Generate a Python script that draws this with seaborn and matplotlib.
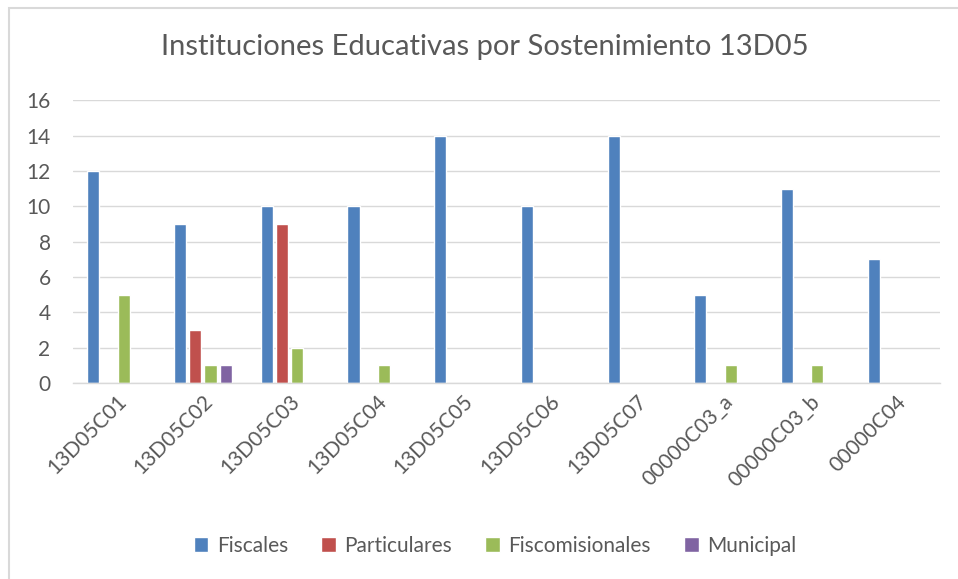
import pandas as pd
import matplotlib.pyplot as plt
from matplotlib.patches import Rectangle
import seaborn as sns

# data
circuitos = ['13D05C01', '13D05C02', '13D05C03', '13D05C04', '13D05C05',
             '13D05C06', '13D05C07', '00000C03_a', '00000C03_b', '00000C04']
fiscales = [12, 9, 10, 10, 14, 10, 14, 5, 11, 7]
particulares = [0, 3, 9, 0, 0, 0, 0, 0, 0, 0]
fiscomisionales = [5, 1, 2, 1, 0, 0, 0, 1, 1, 0]
municipal = [0, 1, 0, 0, 0, 0, 0, 0, 0, 0]
series = ['Fiscales', 'Particulares', 'Fiscomisionales', 'Municipal']
colores = ['#4F81BD', '#C0504D', '#9BBB59', '#8064A2']

df = pd.DataFrame({'Circuito': circuitos, 'Fiscales': fiscales,
                   'Particulares': particulares,
                   'Fiscomisionales': fiscomisionales,
                   'Municipal': municipal})
df = df.melt(id_vars='Circuito', var_name='Sostenimiento', value_name='n')

sns.set_style('white')
plt.rcParams['font.family'] = ['Lato', 'DejaVu Sans']
gris = '#595959'

fig = plt.figure(figsize=(9.58, 5.79), dpi=100)
ax = fig.add_axes([0.076, 0.3385, 0.905, 0.4885])

sns.barplot(data=df, x='Circuito', y='n', hue='Sostenimiento',
            hue_order=series, palette=colores, width=0.7, gap=0.2,
            saturation=1, ax=ax, legend=True)

ax.set_ylim(0, 16)
ax.set_yticks(range(0, 17, 2))
ax.yaxis.grid(True, color='#D9D9D9', linewidth=1)
ax.set_axisbelow(True)
for s in ['top', 'right', 'left']:
    ax.spines[s].set_visible(False)
ax.spines['bottom'].set_color('#D9D9D9')
ax.spines['bottom'].set_linewidth(1)
ax.tick_params(axis='both', length=0, labelsize=15, colors=gris)
ax.tick_params(axis='y', pad=16)
ax.tick_params(axis='x', pad=6)
ax.set_xlabel('')
ax.set_ylabel('')
plt.setp(ax.get_xticklabels(), rotation=45, ha='right', rotation_mode='anchor')

fig.text(485 / 958, 1 - 47 / 579,
         'Instituciones Educativas por Sostenimiento 13D05',
         fontsize=21, color=gris, ha='center', va='center')

h, l = ax.get_legend_handles_labels()
ax.get_legend().remove()
fig.legend(h, l, loc='center', bbox_to_anchor=(495 / 958, 0.057), ncol=4,
           frameon=False, fontsize=15, labelcolor=gris, handlelength=0.7,
           handleheight=0.7, handletextpad=0.4, columnspacing=1.6)

# chart area border (only top and left visible in the reference)
fig.patches.append(Rectangle((9 / 958, -0.1), 1.2, 1 - 8 / 579 + 0.1,
                             transform=fig.transFigure, fill=False,
                             edgecolor='#D9D9D9', linewidth=1.5))

plt.savefig('out.png', dpi=100)
